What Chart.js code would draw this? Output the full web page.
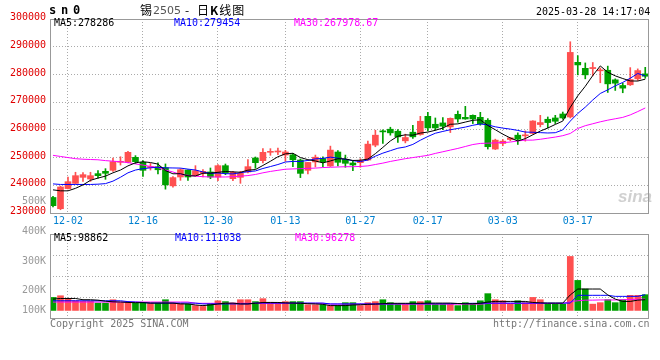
<!DOCTYPE html>
<html>
<head>
<meta charset="utf-8">
<script src="https://cdn.jsdelivr.net/npm/chart.js@4.4.1/dist/chart.umd.min.js"></script>
<style>
body { margin: 0; background: #fff; }
#wrap { position: relative; width: 660px; height: 360px; overflow: hidden; font-family: "DejaVu Sans Mono", monospace; font-size: 10px; }
canvas { position: absolute; left: 0; }
.t { position: absolute; white-space: pre; line-height: 12px; }
</style>
</head>
<body>
<div id="wrap">
  <canvas id="kline" width="660" height="230" style="top:0"></canvas>
  <canvas id="vol" width="660" height="150" style="top:190px"></canvas>

  <div class="t" style="left:49px;top:3px;font-weight:bold;font-size:12px;letter-spacing:4.8px;line-height:14px">sn0</div>
  <div class="t" style="left:140px;top:2px;font-family:'Noto Sans CJK SC';font-size:12px;line-height:16px">锡</div>
  <div class="t" style="left:153px;top:3px;font-family:'DejaVu Sans';font-size:11px;color:#555;line-height:16px">2505</div>
  <div class="t" style="left:185px;top:2px;font-family:'Noto Sans CJK SC';font-size:12px;line-height:16px">-</div>
  <div class="t" style="left:197px;top:2px;font-family:'Noto Sans CJK SC';font-size:12px;letter-spacing:1px;line-height:16px">日<b>K</b>线图</div>
  <div class="t" style="left:536px;top:6px">2025-03-28 14:17:04</div>

  <div class="t" style="left:54px;top:17px;color:#000">MA5:278286</div>
  <div class="t" style="left:174px;top:17px;color:#0000ff">MA10:279454</div>
  <div class="t" style="left:294px;top:17px;color:#ff00ff">MA30:267978.67</div>

  <div class="t" style="left:54px;top:232px;color:#000">MA5:98862</div>
  <div class="t" style="left:175px;top:232px;color:#0000ff">MA10:111038</div>
  <div class="t" style="left:295px;top:232px;color:#ff00ff">MA30:96278</div>

  <div class="t" style="left:618px;top:188px;font-family:'Liberation Sans';font-style:italic;font-weight:bold;font-size:17px;line-height:18px;color:rgba(150,150,150,0.45)">sina</div>

  <div class="t" style="left:50px;top:318px;color:#777">Copyright 2025 SINA.COM</div>
  <div class="t" style="left:493px;top:318px;color:#777">http://finance.sina.com.cn</div>
</div>

<script>
const dates = ['11-28','11-29','12-02','12-03','12-04','12-05','12-06','12-09','12-10','12-11',
  '12-12','12-13','12-16','12-17','12-18','12-19','12-20','12-23','12-24','12-25',
  '12-26','12-27','12-30','12-31','01-02','01-03','01-06','01-07','01-08','01-09',
  '01-10','01-13','01-14','01-15','01-16','01-17','01-20','01-21','01-22','01-23',
  '01-24','01-27','02-05','02-06','02-07','02-10','02-11','02-12','02-13','02-14',
  '02-17','02-18','02-19','02-20','02-21','02-24','02-25','02-26','02-27','02-28',
  '03-03','03-04','03-05','03-06','03-07','03-10','03-11','03-12','03-13','03-14',
  '03-17','03-18','03-19','03-20','03-21','03-24','03-25','03-26','03-27','03-28'];

const tickDates = ['12-02','12-16','12-30','01-13','01-27','02-17','03-03','03-17'];

const open = [235600,231540,238800,240700,242870,242270,244200,245040,245400,248300,
  248290,250090,248290,246400,246700,246350,239800,242990,245520,243470,
  244320,244800,242990,247080,242390,242870,244800,249850,248890,251900,
  252020,250930,251000,249110,245400,248400,249650,246960,252000,249350,
  248050,248150,249110,254490,259630,260230,259510,256040,259150,258320,
  264890,262020,262500,261070,265610,264530,265250,264530,263460,253080,
  255100,256520,258080,257840,258690,261910,263820,264290,265720,264650,
  284370,282210,282100,281300,281500,278050,276010,276260,278410,280200];

const high = [236000,239700,243000,244700,244560,244700,245300,246000,249850,250300,
  252260,250700,248900,247900,248100,247700,243130,246000,245600,247080,
  245640,246240,247440,247680,245040,245040,249250,250210,253220,253220,
  253460,252620,251500,249500,248300,250900,250300,254130,252500,250900,
  248640,249600,255930,259870,260000,260950,260100,258440,261670,264890,
  266330,264290,264400,264300,266800,268480,265400,266330,264060,256640,
  256520,257200,258920,259630,263300,265250,264650,265250,266430,291790,
  286770,284150,284300,282300,283000,278410,276830,282460,282000,282570];

const low = [232200,231180,238700,240500,241430,241400,242600,242150,245000,247300,
  248050,247800,243230,245500,244100,238600,239320,241790,241790,243300,
  242990,242390,241670,243830,241670,240710,244440,246120,248050,250810,
  251050,248650,246700,242770,244100,246600,246700,246800,247000,246500,
  245280,246500,249000,253900,255100,258080,255450,255300,256900,258080,
  259630,259870,260100,259030,262740,263800,262270,261670,253080,252900,
  254250,256040,254730,255930,258500,261070,260700,262270,263820,264290,
  279850,278410,279500,277000,273500,274220,273390,276010,277800,278630];

const close = [232650,239400,241300,243470,243830,243470,243470,244320,248530,248530,
  251900,248530,245400,246800,245600,240150,242770,245640,242990,245280,
  245040,242990,247080,244440,244680,244320,246720,248170,251900,252260,
  252380,252020,249200,244300,248250,250130,248500,252700,248300,247930,
  247320,248890,254850,258080,259270,258920,257480,257240,257480,263100,
  260700,260700,261310,264170,263930,263930,263930,262140,253920,256290,
  255930,257120,256640,258200,263200,262630,262630,263100,264290,287950,
  283430,279850,282500,281600,276600,276830,275050,278160,281390,279340];

const ma5 = [238350,238000,238000,238900,240130,241800,242600,243300,244500,245500,
  247000,248100,248500,248200,247650,245300,244140,244190,243430,243370,
  244340,244390,244680,244970,244850,244700,245450,245670,247160,248670,
  250290,251350,251550,250030,249230,248780,248080,248780,249580,249510,
  248950,249030,249460,251410,253680,256000,257720,258200,258080,258840,
  259200,259840,260660,262000,262160,262810,263450,263620,261570,260040,
  258440,257080,255980,256840,258220,259560,260660,261950,263170,268120,
  272280,275720,279600,283070,280800,279480,278520,277650,277610,278290];

const ma10 = [240500,240300,240300,240300,240300,240300,240400,240600,241500,242900,
  244500,245500,246000,246300,246500,246300,246250,246200,245830,245510,
  244820,244270,244430,244200,244110,244520,244920,245170,246060,246760,
  247490,248400,248610,248600,248950,249530,249710,250160,249800,249370,
  248870,248550,249120,250500,251600,252480,253370,253830,254750,256260,
  257600,258780,259430,260040,260500,261000,261650,262140,261780,261100,
  260630,260270,259800,259200,259130,259000,258870,258970,260000,263170,
  265920,268190,270780,273120,274460,275880,277120,278630,280340,279450];

const ma30 = [250800,250400,250000,249600,249400,249300,249200,248900,248700,248500,
  248200,247700,247300,246800,246400,245500,244800,243900,243600,243300,
  243100,243000,242990,243000,243100,243300,243500,243900,244500,245000,
  245400,245800,245900,246000,246100,246200,246400,246500,246600,246700,
  246700,246800,247000,247500,248000,248600,249100,249600,250000,250400,
  250800,251500,252100,252700,253300,254000,254700,255100,255200,255300,
  255400,255600,256000,256300,256300,256600,257000,257400,257900,258700,
  260500,261500,262200,262900,263500,264000,264500,265400,266600,267900];

const volume = [98000,106000,92000,82000,79000,79000,71000,71000,87000,73000,
  73000,71000,71000,71000,71000,87000,71000,68000,66000,59000,
  55000,68000,82000,78000,71000,87000,87000,78000,92000,75000,
  71000,78000,78000,78000,63000,63000,63000,59000,59000,73000,
  73000,59000,73000,78000,87000,73000,66000,66000,78000,78000,
  82000,66000,66000,66000,59000,73000,66000,82000,116000,87000,
  82000,66000,82000,73000,98000,87000,66000,66000,66000,293000,
  179000,138000,66000,73000,87000,73000,87000,108000,108000,111000];

const volMa5 = [90000,93000,93000,93000,87000,87000,85000,80000,77000,76000,
  74000,73000,73000,71000,71000,71000,71000,67000,67000,62000,
  59000,62000,67000,70000,71000,67000,67000,70000,74000,74000,
  74000,72000,71000,70000,68000,67000,65000,59000,59000,59000,
  62000,63000,65000,66000,68000,70000,70000,70000,70000,70000,
  71000,71000,71000,71000,69000,68000,68000,70000,76000,79000,
  79000,79000,79000,79000,74000,72000,71000,71000,71000,110000,
  138000,138000,138000,138000,110000,90000,79000,79000,85000,87000];

const volMa10 = [82000,82000,82000,82000,82000,82000,82000,82000,82000,82000,
  78000,76000,74000,71000,71000,71000,71000,71000,71000,71000,
  67000,67000,67000,67000,67000,67000,67000,71000,71000,71000,
  71000,71000,71000,71000,71000,71000,71000,67000,67000,67000,
  67000,67000,67000,67000,67000,67000,68000,68000,68000,68000,
  68000,68000,68000,68000,69000,69000,70000,70000,71000,71000,
  71000,71000,71000,71000,71000,71000,71000,71000,71000,71000,
  108000,108000,108000,108000,108000,103000,103000,103000,103000,111000];

const volMa30 = [76000,76000,76000,76000,76000,76000,76000,76000,76000,76000,
  76000,76000,76000,76000,76000,76000,76000,76000,76000,70000,
  70000,70000,70000,70000,70000,70000,70000,70000,70000,70000,
  70000,70000,70000,70000,70000,70000,70000,66000,66000,66000,
  66000,66000,66000,66000,66000,66000,66000,66000,66000,66000,
  66000,66000,66000,66000,66000,66000,66000,66000,69000,69000,
  69000,69000,69000,69000,69000,69000,69000,69000,69000,78000,
  82000,85000,85000,86000,86000,86000,87000,88000,89000,90000];

const volLabels = ['500K', '400K', '300K', '200K', '100K'];

const UP = '#ff5050';
const DOWN = '#00a000';
const MONO = 'DejaVu Sans Mono';
const candleColors = close.map((c, i) => (c >= open[i] ? UP : DOWN));

const xy = arr => arr.map((v, i) => ({ x: i, y: v }));

function maLine(values, color) {
  return {
    type: 'line',
    data: xy(values),
    borderColor: color,
    borderWidth: 1,
    pointRadius: 0,
    tension: 0,
    order: 0
  };
}

// frame round the plot area
const framePlugin = {
  id: 'frame',
  afterDraw(chart) {
    const { ctx, chartArea: a } = chart;
    ctx.save();
    ctx.strokeStyle = '#999';
    ctx.lineWidth = 1;
    ctx.strokeRect(Math.round(a.left) + 0.5, Math.round(a.top) + 0.5,
      Math.round(a.right - a.left) - 1, Math.round(a.bottom - a.top));
    ctx.restore();
  }
};

function xScale(showLabels, height) {
  return {
    type: 'linear',
    min: -0.4,
    max: 79.5,
    offset: false,
    afterBuildTicks: s => { s.ticks = tickDates.map(d => ({ value: dates.indexOf(d) })); },
    afterFit: s => { s.height = height; },
    ticks: {
      display: showLabels,
      autoSkip: false,
      maxRotation: 0,
      padding: 2,
      color: '#0080d0',
      font: { family: MONO, size: 10 },
      callback: v => dates[v]
    },
    grid: { color: '#aaa', drawTicks: false, offset: false },
    border: { display: false, dash: [1, 2] }
  };
}

new Chart(document.getElementById('kline'), {
  type: 'bar',
  data: {
    datasets: [
      maLine(ma5, '#000000'),
      maLine(ma10, '#0000ff'),
      maLine(ma30, '#ff00ff'),
      {
        // open-close bodies
        data: dates.map((d, i) => ({ x: i, y: [open[i], close[i]] })),
        backgroundColor: candleColors,
        barThickness: 6,
        minBarLength: 1,
        grouped: false,
        order: 1
      },
      {
        // high-low wicks
        data: dates.map((d, i) => ({ x: i, y: [low[i], high[i]] })),
        backgroundColor: candleColors,
        barThickness: 1,
        grouped: false,
        order: 2
      }
    ]
  },
  options: {
    responsive: false,
    animation: false,
    events: [],
    layout: { padding: { left: 0, right: 11, top: 19, bottom: 0 } },
    plugins: { legend: { display: false }, tooltip: { enabled: false } },
    scales: {
      x: xScale(true, 17),
      y: {
        min: 230000,
        max: 300000,
        afterFit: s => { s.width = 50; },
        ticks: {
          stepSize: 10000,
          padding: 4,
          labelOffset: -1.5,
          color: '#e00000',
          font: { family: MONO, size: 10 },
          callback: v => String(v)
        },
        grid: { color: '#aaa', drawTicks: false },
        border: { display: false, dash: [1, 2] }
      }
    }
  },
  plugins: [framePlugin]
});

// volume axis labels sit apart from the grid lines in the original
const volLabelPlugin = {
  id: 'volLabels',
  afterDraw(chart) {
    const { ctx } = chart;
    const ys = [11, 41, 71, 100, 120];
    ctx.save();
    ctx.fillStyle = '#999';
    ctx.font = '10px "' + MONO + '"';
    ctx.textAlign = 'right';
    ctx.textBaseline = 'middle';
    volLabels.forEach((t, i) => ctx.fillText(t, 46, ys[i]));
    ctx.restore();
  }
};

new Chart(document.getElementById('vol'), {
  type: 'bar',
  data: {
    datasets: [
      maLine(volMa5, '#000000'),
      maLine(volMa10, '#0000ff'),
      maLine(volMa30, '#ff00ff'),
      {
        data: xy(volume),
        backgroundColor: candleColors,
        barThickness: 6,
        base: 36000,
        grouped: false,
        order: 1
      }
    ]
  },
  options: {
    responsive: false,
    animation: false,
    events: [],
    layout: { padding: { left: 0, right: 11, top: 44, bottom: 0 } },
    plugins: { legend: { display: false }, tooltip: { enabled: false } },
    scales: {
      x: xScale(false, 22),
      y: {
        min: 0,
        max: 400000,
        afterFit: s => { s.width = 50; },
        ticks: { stepSize: 100000, display: false },
        grid: { color: '#aaa', drawTicks: false },
        border: { display: false, dash: [1, 2] }
      }
    }
  },
  plugins: [framePlugin, volLabelPlugin]
});
</script>
</body>
</html>
